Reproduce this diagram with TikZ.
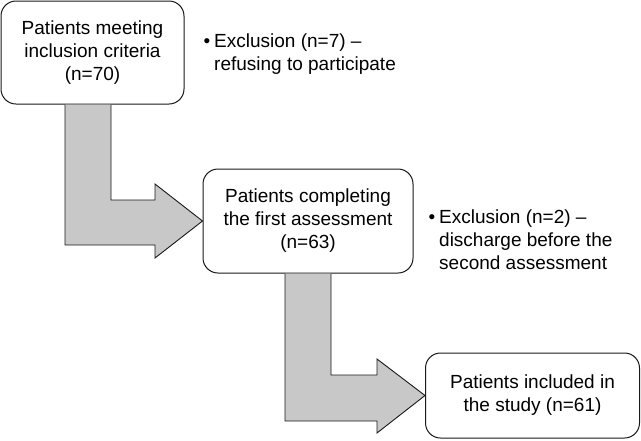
\documentclass[tikz,border=0pt]{standalone}
\usepackage{fontspec}
\setmainfont{Liberation Sans}
\usetikzlibrary{calc}
\definecolor{arrowgray}{RGB}{200,200,200}
\definecolor{linec}{RGB}{25,25,25}
\begin{document}
\begin{tikzpicture}[x=1pt,y=-1pt,
  box/.style={draw=linec, line width=1pt, rounded corners=15pt, fill=white,
    align=center, inner sep=0pt, font=\fontsize{19}{23}\selectfont},
  note/.style={anchor=base west, align=left, inner sep=0pt, font=\fontsize{19}{23}\selectfont},
  fat/.style={fill=arrowgray},
  fatline/.style={draw=linec, line width=0.9pt, line join=miter}]
\useasboundingbox (0,0) rectangle (641,440);
% boxes
\node[box, minimum width=183pt, minimum height=103pt] (b1) at (92.5,52.5)
  {Patients meeting\\inclusion criteria\\(n=70)};
\node[box, minimum width=210pt, minimum height=104pt] (b2) at (308,221)
  {Patients completing\\the first assessment\\(n=63)};
\node[box, minimum width=214pt, minimum height=85pt] (b3) at (532.5,395.5)
  {Patients included in\\the study (n=61)};
% notes (base anchor = baseline of last line)
\node[note] (n1) at (214,70.5) {\llap{•\hspace{4pt}}Exclusion (n=7) –\\refusing to participate};
\node[note] (n2) at (439,269.5) {\llap{•\hspace{4pt}}Exclusion (n=2) –\\discharge before the\\second assessment};
% fat arrow 1
\fill[fat] (65,0 |- b1.south) -- (111,0 |- b1.south) -- (111,200) -- (155,200) -- (155,184)
  -- (b2.west) -- (155,258) -- (155,245) -- (65,245) -- cycle;
\draw[fatline] (111,0 |- b1.south) -- (111,200) -- (155,200) -- (155,184)
  -- (b2.west) -- (155,258) -- (155,245) -- (65,245) -- (65,0 |- b1.south);
% fat arrow 2
\fill[fat] (285,0 |- b2.south) -- (331,0 |- b2.south) -- (331,375) -- (377,375) -- (377,359)
  -- (b3.west) -- (377,433) -- (377,421) -- (285,421) -- cycle;
\draw[fatline] (331,0 |- b2.south) -- (331,375) -- (377,375) -- (377,359)
  -- (b3.west) -- (377,433) -- (377,421) -- (285,421) -- (285,0 |- b2.south);
\end{tikzpicture}
\end{document}
